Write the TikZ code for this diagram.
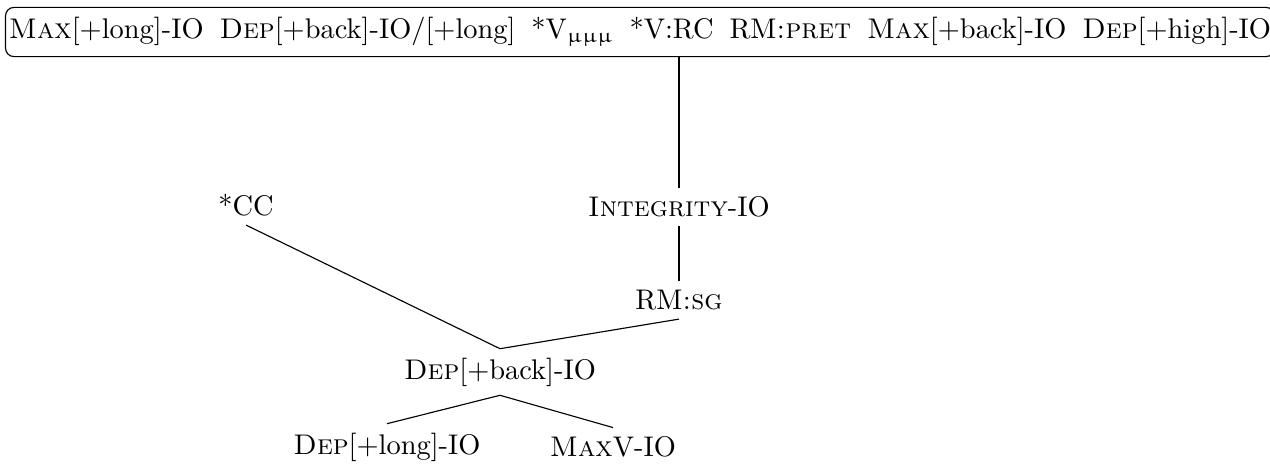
\documentclass[tikz,border=0pt]{standalone}
\usepackage{fontspec}
\usepackage{upgreek}
\begin{document}
\begin{tikzpicture}[x=0.352pt,y=-0.352pt,
  every node/.style={inner sep=3pt},
  cand/.style={draw,rounded corners=3pt,inner xsep=1.2pt,inner ysep=3.5pt},
  edge/.style={draw,line width=0.4pt}]
\useasboundingbox (0,0) rectangle (1270,464);
% tableau of the winning candidate's undominated constraints
\node[cand] (top) at (640,32) {\textsc{Max}[+long]-IO\hspace{0.56em}\textsc{Dep}[+back]-IO/[+long]\hspace{0.56em}*V$_{\upmu\upmu\upmu}$\hspace{0.56em}*V:RC\hspace{0.56em}RM\textsc{:pret}\hspace{0.56em}\textsc{Max}[+back]-IO\hspace{0.56em}\textsc{Dep}[+high]-IO};
% ranked constraints
\node (integ) at (679,207) {\textsc{Integrity}-IO};
\node (rmsg) at (679,300) {RM\textsc{:sg}};
\node (cc) at (246,205) {*CC};
\node (back) at (500,372) {\textsc{Dep}[+back]-IO};
\node (long) at (387,447) {\textsc{Dep}[+long]-IO};
\node (maxv) at (613,447) {\textsc{Max}V-IO};
% domination lines
\path[edge] (top.south -| integ.north) -- (integ.north);
\path[edge] (integ) -- (rmsg);
\path[edge] (cc.south) -- (back.north);
\path[edge] (rmsg.south) -- (back.north);
\path[edge] (back.south) -- (long.north);
\path[edge] (back.south) -- (maxv.north);
\end{tikzpicture}
\end{document}
